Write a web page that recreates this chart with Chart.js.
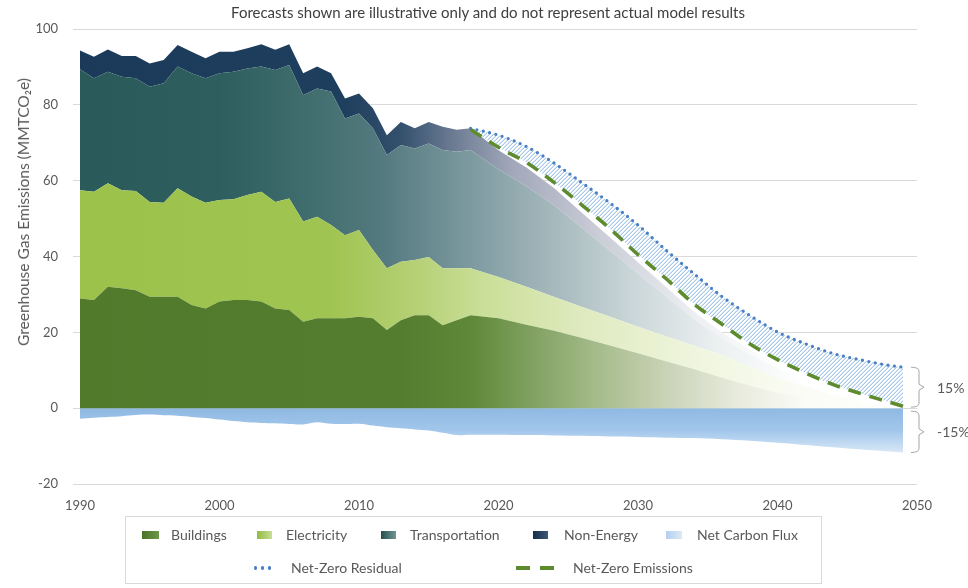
<!DOCTYPE html>
<html>
<head>
<meta charset="utf-8">
<script src="https://cdn.jsdelivr.net/npm/chart.js@4.4.0/dist/chart.umd.min.js"></script>
<style>
html,body{margin:0;padding:0;background:#fff;}
#wrap{position:relative;width:968px;height:588px;font-family:Lato,"Open Sans",sans-serif;color:#595959;overflow:hidden;}
#c{position:absolute;left:0;top:0;}
#title{position:absolute;left:0;width:976px;top:3px;text-align:center;font-size:15px;color:#404040;white-space:nowrap;}
#ytitle{position:absolute;left:23px;top:212px;transform:translate(-50%,-50%) rotate(-90deg);white-space:nowrap;font-size:15.5px;color:#595959;}
#legend{position:absolute;left:125px;top:516px;width:697px;height:68px;border:1px solid #d9d9d9;box-sizing:border-box;}
.txt{position:absolute;font-size:14px;color:#595959;white-space:nowrap;line-height:16px;}
.sw{position:absolute;}
</style>
</head>
<body>
<div id="wrap">
<canvas id="c" width="968" height="588"></canvas>
<div id="title">Forecasts shown are illustrative only and do not represent actual model results</div>
<div id="ytitle">Greenhouse Gas Emissions (MMTCO₂e)</div>
<div id="legend"></div>
</div>
<script>
// ---------------- DATA ----------------
const years = [1990,1991,1992,1993,1994,1995,1996,1997,1998,1999,2000,2001,2002,2003,2004,2005,2006,2007,2008,2009,2010,2011,2012,2013,2014,2015,2016,2017,2018,
               2020,2022,2024,2026,2028,2030,2032,2034,2036,2038,2040,2042,2044,2046,2048,2049];
const buildings = [28.9,28.5,32.0,31.6,31.1,29.4,29.4,29.4,27.2,26.3,28.1,28.5,28.5,28.1,26.3,25.9,22.8,23.7,23.7,23.7,24.1,23.7,20.6,23.2,24.5,24.5,21.9,23.2,24.5,
                   23.7,22.0,20.4,18.5,16.5,14.5,12.4,10.3,8.1,6.0,4.0,2.6,1.5,0.7,0.2,0.0];
const electricity = [28.6,28.6,27.3,25.9,26.2,25.0,24.8,28.6,28.6,27.9,26.8,26.6,27.7,29.0,28.1,29.4,26.4,26.8,24.6,21.9,22.9,18.0,16.3,15.4,14.6,15.4,15.0,13.7,12.4,
                     10.9,10.0,8.9,8.2,7.6,7.0,6.6,6.2,5.9,5.0,4.0,3.2,2.1,1.1,0.4,0.3];
const transportation = [31.9,29.9,29.4,29.9,29.7,30.4,31.5,32.1,32.5,32.8,33.4,33.6,33.4,33.0,34.8,35.2,33.4,33.8,35.2,30.8,30.7,32.1,29.9,30.8,29.4,29.9,31.2,30.7,31.2,
                        28.4,26.5,24.2,20.8,17.4,14.0,10.5,7.0,4.5,3.3,2.6,1.6,1.0,0.8,0.3,0.15];
const nonEnergy = [4.9,5.7,5.9,5.5,5.9,6.1,6.1,5.7,5.7,5.3,5.7,5.3,5.3,5.9,5.3,5.5,5.7,5.8,4.8,5.3,5.3,5.3,5.2,6.1,5.3,5.7,6.1,5.8,5.7,
                   5.0,5.0,4.5,4.0,3.5,3.0,2.5,2.0,1.5,1.2,0.9,0.6,0.4,0.2,0.1,0.05];
const netCarbonFlux = [-2.8,-2.5,-2.3,-2.1,-1.8,-1.7,-1.9,-2.0,-2.3,-2.6,-3.0,-3.4,-3.7,-3.9,-4.0,-4.2,-4.3,-3.7,-4.1,-4.2,-4.1,-4.6,-5.0,-5.3,-5.6,-5.9,-6.5,-7.1,-7.0,
                       -7.0,-7.1,-7.2,-7.3,-7.5,-7.6,-7.8,-7.9,-8.2,-8.6,-9.1,-9.7,-10.3,-10.9,-11.4,-11.7];
const lineYears = [2018,2020,2022,2024,2026,2028,2030,2032,2034,2036,2038,2040,2042,2044,2046,2048,2049];
const netZeroResidual = [73.8,72.0,69.0,64.6,59.4,54.1,48.3,41.7,35.5,29.5,24.5,20.1,17.0,14.4,12.7,11.3,10.8];
const netZeroEmissions = [73.5,68.8,64.8,59.5,53.5,47.3,40.5,34.2,27.5,22.2,17.0,12.8,9.3,6.2,3.8,1.6,0.5];
const xTicks = [1990,2000,2010,2020,2030,2040,2050];
const yTicks = [-20,0,20,40,60,80,100];
const bracketLabels = ['15%','-15%'];
const seriesNames = ['Buildings','Electricity','Transportation','Non-Energy','Net Carbon Flux','Net-Zero Residual','Net-Zero Emissions'];

// ---------------- STYLE HELPERS ----------------
function pts(xs, ys){ return xs.map((x,i)=>({x:x, y:ys[i]})); }
function hGrad(stops){
  return function(ctx){
    const ch = ctx.chart; if(!ch.chartArea) return stops[0][1];
    const sx = ch.scales.x;
    const x0 = sx.getPixelForValue(1990), x1 = sx.getPixelForValue(2050);
    const g = ch.ctx.createLinearGradient(x0,0,x1,0);
    stops.forEach(s=>g.addColorStop(Math.min(1,Math.max(0,(s[0]-1990)/60)), s[1]));
    return g;
  };
}
function fluxGrad(ctx){
  const ch = ctx.chart; if(!ch.chartArea) return '#9dc3e8';
  const sy = ch.scales.y;
  const g = ch.ctx.createLinearGradient(0, sy.getPixelForValue(0), 0, sy.getPixelForValue(-12));
  g.addColorStop(0,'#8fb9e3'); g.addColorStop(0.5,'#a3c7eb'); g.addColorStop(1,'#dbe9f7');
  return g;
}
// hatch pattern: opaque white tile with light-blue diagonal strokes
const pc = document.createElement('canvas'); pc.width=4; pc.height=4;
const p = pc.getContext('2d');
p.fillStyle='#ffffff'; p.fillRect(0,0,4,4);
p.fillStyle='#a9c8ea';
[[0,3],[1,2],[2,1],[3,0]].forEach(q=>p.fillRect(q[0],q[1],1,1));
p.fillStyle='#d7e6f5';
[[0,2],[1,1],[2,0],[3,3]].forEach(q=>p.fillRect(q[0],q[1],1,1));
let hatchCache = null;
function hatchFill(ctx){
  if(!hatchCache) hatchCache = ctx.chart.ctx.createPattern(pc,'repeat');
  return hatchCache;
}

const areaBase = {borderWidth:0, pointRadius:0, pointHoverRadius:0, tension:0, stack:'sectors', order:2};

const brackets = {
  id:'brackets',
  afterDatasetsDraw(ch){
    const c = ch.ctx, sy = ch.scales.y;
    const spans = [
      [sy.getPixelForValue(netZeroResidual[netZeroResidual.length-1]), sy.getPixelForValue(0)-1],
      [sy.getPixelForValue(0)+3, sy.getPixelForValue(netCarbonFlux[netCarbonFlux.length-1])]
    ];
    const xv = 919;
    c.save();
    c.strokeStyle='#a6a6a6'; c.lineWidth=1;
    spans.forEach((s,i)=>{
      const t=s[0], b=s[1], m=(t+b)/2;
      c.beginPath();
      c.moveTo(xv-8,t); c.quadraticCurveTo(xv,t,xv,t+4);
      c.lineTo(xv,m-3); c.lineTo(xv+5,m); c.lineTo(xv,m+3);
      c.lineTo(xv,b-4); c.quadraticCurveTo(xv,b,xv-8,b);
      c.stroke();
      c.fillStyle='#595959'; c.font='14px Lato'; c.textBaseline='middle'; c.textAlign='left';
      c.fillText(bracketLabels[i], 937, m+1);
    });
    c.restore();
  }
};

new Chart(document.getElementById('c'), {
  type:'line',
  data:{
    datasets:[
      Object.assign({}, areaBase, {label:seriesNames[0], data:pts(years,buildings), fill:'origin',
        backgroundColor:hGrad([[1990,'#527a2b'],[2013,'#557d2f'],[2018,'#5f8838'],[2022,'#7d9f5d'],[2027,'#a5bb8b'],[2032,'#c9d3b6'],[2037,'#e7eadc'],[2042,'#fbfbf7'],[2050,'#ffffff']])}),
      Object.assign({}, areaBase, {label:seriesNames[1], data:pts(years,electricity), fill:'-1',
        backgroundColor:hGrad([[1990,'#9cc24b'],[2008,'#a0c451'],[2014,'#b5d075'],[2019,'#cadf98'],[2026,'#dfeabf'],[2034,'#eff5dd'],[2042,'#fbfcf6'],[2050,'#ffffff']])}),
      Object.assign({}, areaBase, {label:seriesNames[2], data:pts(years,transportation), fill:'-1',
        backgroundColor:hGrad([[1990,'#2b5a5a'],[2000,'#2e5e5e'],[2006,'#3f6c6c'],[2012,'#557b80'],[2018,'#7d9aa0'],[2024,'#a6b9bd'],[2030,'#cdd8da'],[2036,'#edf1f2'],[2042,'#ffffff']])}),
      Object.assign({}, areaBase, {label:seriesNames[3], data:pts(years,nonEnergy), fill:'-1',
        backgroundColor:hGrad([[1990,'#1b3a59'],[2009,'#1f3f5e'],[2013,'#34506d'],[2017,'#6f7e95'],[2021,'#a2a8ba'],[2027,'#c9cbd6'],[2034,'#eceef2'],[2040,'#ffffff']])}),
      {label:seriesNames[4], data:pts(years,netCarbonFlux), stack:'flux', fill:'origin', backgroundColor:fluxGrad,
        borderWidth:0, pointRadius:0, pointHoverRadius:0, tension:0.3, order:2},
      {label:seriesNames[5], data:pts(lineYears,netZeroResidual), stack:'res', fill:{target:6}, backgroundColor:hatchFill,
        borderColor:'#4a80c4', borderWidth:3.3, borderDash:[0,6.5], borderCapStyle:'round',
        pointRadius:0, pointHoverRadius:0, tension:0.4, cubicInterpolationMode:'monotone', order:0},
      {label:seriesNames[6], data:pts(lineYears,netZeroEmissions), stack:'nz', fill:false,
        borderColor:'#5e8b2e', borderWidth:3.6, borderDash:[13,9], borderCapStyle:'butt',
        pointRadius:0, pointHoverRadius:0, tension:0.4, cubicInterpolationMode:'monotone', order:-1}
    ]
  },
  options:{
    responsive:false, animation:false, devicePixelRatio:1,
    layout:{padding:{left:0,right:51,top:29,bottom:0}},
    plugins:{legend:{display:false}, title:{display:false}, tooltip:{enabled:false}},
    scales:{
      x:{type:'linear', min:1989.5, max:2050,
        afterBuildTicks(s){ s.ticks = xTicks.map(v=>({value:v})); },
        afterFit(s){ s.height = 104; },
        ticks:{color:'#595959', font:{family:'Lato', size:13}, padding:6, maxRotation:0, autoSkip:false, callback:v=>String(v)},
        grid:{display:false}, border:{display:false}},
      y:{stacked:true, min:-20, max:100,
        afterBuildTicks(s){ s.ticks = yTicks.map(v=>({value:v})); },
        afterFit(s){ s.width = 73; },
        ticks:{color:'#595959', font:{family:'Lato', size:13}, padding:15, callback:v=>String(v)},
        grid:{color:'#d9d9d9', lineWidth:1, drawTicks:false}, border:{display:false}}
    }
  },
  plugins:[brackets]
});

// ---------------- HTML LEGEND ----------------
const legend = document.getElementById('legend');
const L = 125, T = 516;
const legendItems = [
  {name:seriesNames[0], sw:[141,530,17,8], tx:170, ty:534, bg:'linear-gradient(90deg,#4a7328,#6f9748)'},
  {name:seriesNames[1], sw:[256,530,15,8], tx:285, ty:534, bg:'linear-gradient(90deg,#93bb45,#c9dd94)'},
  {name:seriesNames[2], sw:[380,530,15,8], tx:409, ty:534, bg:'linear-gradient(90deg,#22504e,#729795)'},
  {name:seriesNames[3], sw:[532,530,15,8], tx:563, ty:534, bg:'linear-gradient(90deg,#142f4d,#3d5776)'},
  {name:seriesNames[4], sw:[665,530,16,8], tx:696, ty:534, bg:'linear-gradient(90deg,#b3d0ee,#dce9f7)'},
  {name:seriesNames[5], sw:[251,565,22,4], tx:290, ty:567, bg:'radial-gradient(circle,#4a80c4 1.6px,transparent 2px) 0 0/7px 4px repeat-x'},
  {name:seriesNames[6], sw:[515,565,38,4], tx:572, ty:567, bg:'repeating-linear-gradient(90deg,#5e8b2e 0 14px,transparent 14px 24px)'}
];
legendItems.forEach(it=>{
  const s = document.createElement('div'); s.className='sw';
  s.style.left=(it.sw[0]-L)+'px'; s.style.top=(it.sw[1]-T)+'px'; s.style.width=it.sw[2]+'px'; s.style.height=it.sw[3]+'px';
  s.style.background=it.bg; legend.appendChild(s);
  const t = document.createElement('div'); t.className='txt'; t.textContent=it.name;
  t.style.left=(it.tx-L)+'px'; t.style.top=(it.ty-T-8)+'px'; legend.appendChild(t);
});
</script>
</body>
</html>
